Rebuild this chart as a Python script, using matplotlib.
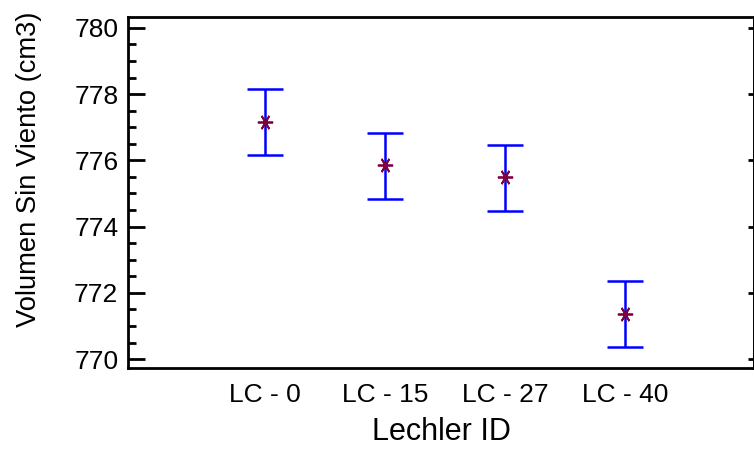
import matplotlib
matplotlib.use("Agg")
import matplotlib.pyplot as plt
from matplotlib.ticker import MultipleLocator

plt.rcParams['font.family'] = ['Liberation Sans', 'DejaVu Sans']

categories = ['LC - 0', 'LC - 15', 'LC - 27', 'LC - 40']
means = [777.17, 775.86, 775.49, 771.36]
lower = [776.15, 774.83, 774.46, 770.37]
upper = [778.15, 776.82, 776.46, 772.36]

err_lo = [m - l for m, l in zip(means, lower)]
err_hi = [u - m for m, u in zip(means, upper)]
pos = list(range(len(categories)))

fig = plt.figure(figsize=(7.54, 4.51), dpi=100)
ax = fig.add_axes([128 / 754, 1 - 368 / 451, 626 / 754, 351 / 451])

ax.errorbar(pos, means, yerr=[err_lo, err_hi], fmt='none', ecolor='#0000ff',
            elinewidth=1.8, capsize=13, capthick=1.8)
ax.plot(pos, means, linestyle='none', marker=(6, 2, 90), markersize=11,
        markeredgecolor='#800040', markeredgewidth=1.3)

ax.set_xlim(-1.142, 4.075)
ax.set_ylim(769.73, 780.33)
ax.set_xticks(pos)
ax.set_xticklabels(categories)
ax.yaxis.set_major_locator(MultipleLocator(2))
ax.yaxis.set_minor_locator(MultipleLocator(0.5))

ax.tick_params(axis='x', length=0, pad=11, labelsize=19)
ax.tick_params(axis='y', which='major', direction='in', length=12, width=2,
               labelsize=19, pad=7)
ax.tick_params(axis='y', which='minor', direction='in', length=6, width=2)

# short inward ticks on the right side only at major values
sec = ax.secondary_yaxis('right')
sec.yaxis.set_major_locator(MultipleLocator(2))
sec.tick_params(direction='in', length=4, width=2, labelright=False)
sec.spines['right'].set_linewidth(2)

for s in ax.spines.values():
    s.set_linewidth(2)

ax.set_xlabel('Lechler ID', fontsize=22, labelpad=7)
ax.set_ylabel('Volumen Sin Viento (cm3)', fontsize=19.7)
ax.yaxis.set_label_coords(-0.137, 0.567)

fig.savefig('out.png', dpi=100)
